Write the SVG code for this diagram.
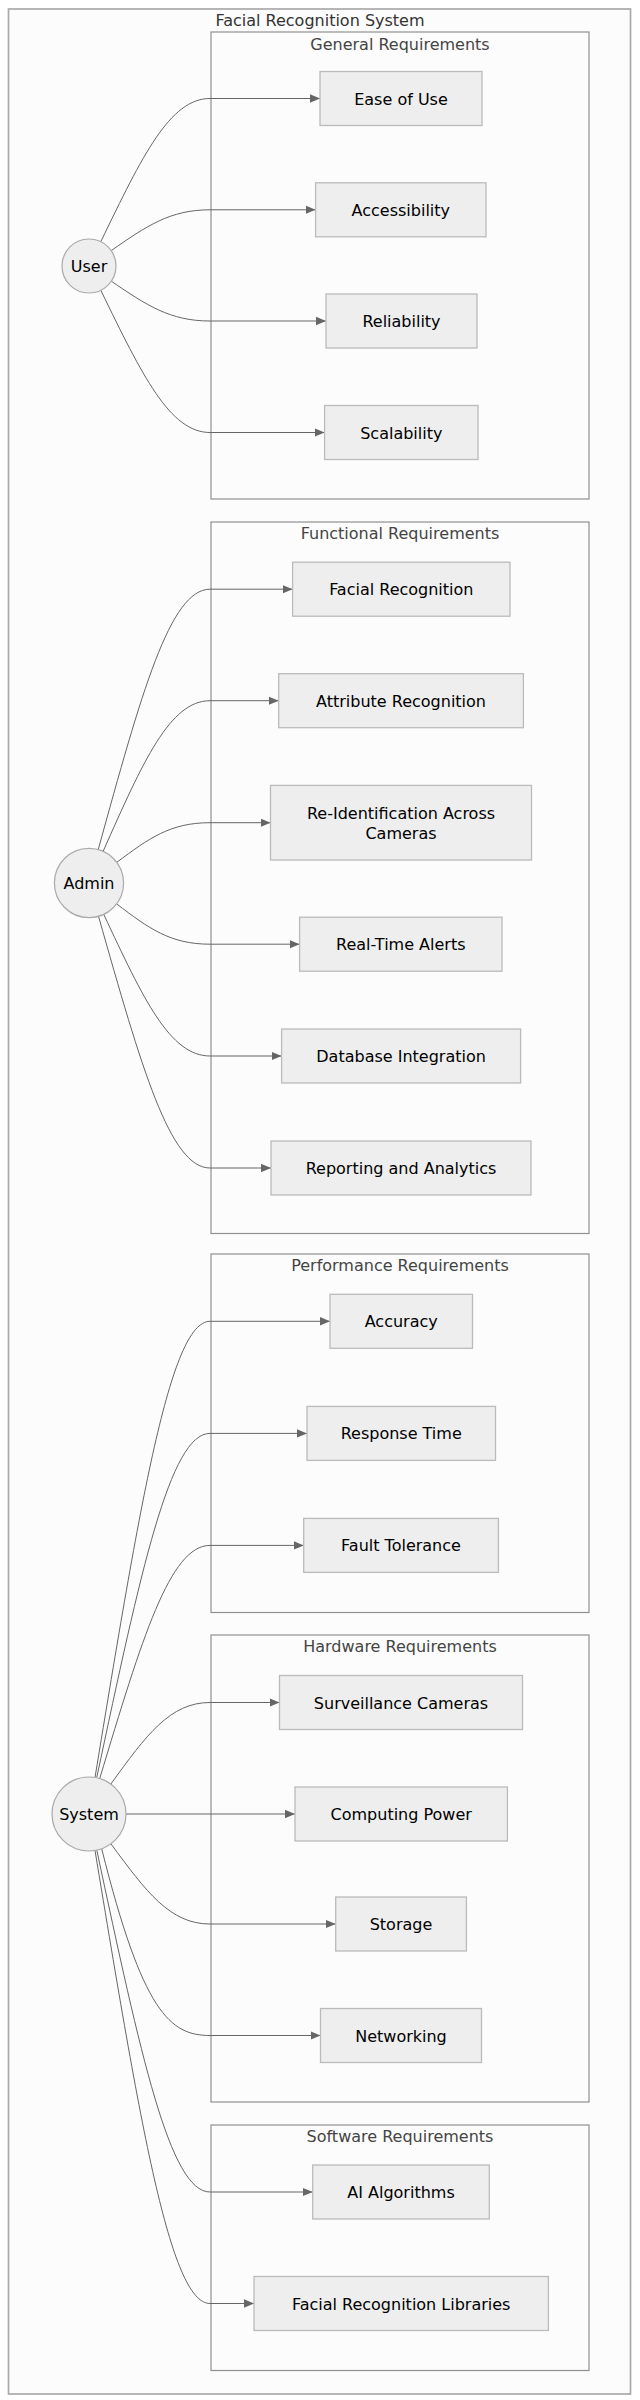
<svg xmlns="http://www.w3.org/2000/svg" width="640" height="2400" viewBox="0 0 640 2400">
<defs>
<style>
text{font-family:"DejaVu Sans","Verdana",sans-serif;font-size:16px;text-anchor:middle}
.node rect{fill:#eeeeee;stroke:#bbbbbb;stroke-width:1.3}
.node circle{fill:#eeeeee;stroke:#aaaaaa;stroke-width:1.2}
.node text{fill:#000000}
.cluster rect{fill:#fcfcfc;stroke:#909090;stroke-width:1.2}
.cluster text{fill:#444444}
.edges path{fill:none;stroke:#666666;stroke-width:1}
</style>
<marker id="arrow" viewBox="0 0 10 10" refX="10" refY="5" markerUnits="userSpaceOnUse" markerWidth="10" markerHeight="10" orient="auto">
<path d="M0,0.8 L10,5 L0,9.2 z" fill="#666666"/>
</marker>
</defs>
<rect x="0" y="0" width="640" height="2400" fill="#ffffff"/>
<g id="frs" class="cluster">
<rect x="8.5" y="9" width="622" height="2385" style="stroke:#aaaaaa;stroke-width:1.7"/>
<text x="320" y="26" style="fill:#333333">Facial Recognition System</text>
</g>
<g id="general" class="cluster">
<rect x="211" y="32" width="378" height="467"/>
<text x="400" y="49.5">General Requirements</text>
</g>
<g id="functional" class="cluster">
<rect x="211" y="522" width="378" height="711.5"/>
<text x="400" y="539">Functional Requirements</text>
</g>
<g id="performance" class="cluster">
<rect x="211" y="1254" width="378" height="358.5"/>
<text x="400" y="1271">Performance Requirements</text>
</g>
<g id="hardware" class="cluster">
<rect x="211" y="1635" width="378" height="467"/>
<text x="400" y="1652">Hardware Requirements</text>
</g>
<g id="software" class="cluster">
<rect x="211" y="2125" width="378" height="245.5"/>
<text x="400" y="2142">Software Requirements</text>
</g>
<g class="edges" id="connectors">
<path d="M100.8,241.7 C142.3,155.8 170,98.5 210,98.5 L320,98.5" marker-end="url(#arrow)"/>
<path d="M111.2,250.6 C146.5,226.1 170,209.8 210,209.8 L315.6,209.8" marker-end="url(#arrow)"/>
<path d="M111.3,281.2 C146.5,305.1 170,321 210,321 L326,321" marker-end="url(#arrow)"/>
<path d="M100.8,290.3 C142.3,375.6 170,432.5 210,432.5 L324.6,432.5" marker-end="url(#arrow)"/>
<path d="M98.2,849.7 C141.3,693.4 170,589.2 210,589.2 L292.6,589.2" marker-end="url(#arrow)"/>
<path d="M103.1,851.4 C143.2,761 170,700.7 210,700.7 L278.7,700.7" marker-end="url(#arrow)"/>
<path d="M116.8,862.3 C148.7,838.6 170,822.7 210,822.7 L270.5,822.7" marker-end="url(#arrow)"/>
<path d="M116.6,903.9 C148.6,928.1 170,944.2 210,944.2 L299.6,944.2" marker-end="url(#arrow)"/>
<path d="M103.7,914.3 C143.5,999.3 170,1056 210,1056 L281.6,1056" marker-end="url(#arrow)"/>
<path d="M98.5,916.3 C141.4,1067.3 170,1168 210,1168 L271,1168" marker-end="url(#arrow)"/>
<path d="M95,1777.5 C140,1503.8 170,1321.3 210,1321.3 L330,1321.3" marker-end="url(#arrow)"/>
<path d="M96.7,1777.8 C140.7,1571.2 170,1433.4 210,1433.4 L307,1433.4" marker-end="url(#arrow)"/>
<path d="M99.7,1778.6 C141.9,1638.7 170,1545.4 210,1545.4 L303.7,1545.4" marker-end="url(#arrow)"/>
<path d="M110.8,1784.1 C146.3,1735.1 170,1702.5 210,1702.5 L279.5,1702.5" marker-end="url(#arrow)"/>
<path d="M126,1814 L295,1814" marker-end="url(#arrow)"/>
<path d="M110.9,1843.8 C146.4,1891.9 170,1924 210,1924 L335.7,1924" marker-end="url(#arrow)"/>
<path d="M101.7,1848.8 C142.7,2012.4 170,2035.5 210,2035.5 L320.5,2035.5" marker-end="url(#arrow)"/>
<path d="M96.8,1850.2 C140.7,2055.3 170,2192 210,2192 L312.7,2192" marker-end="url(#arrow)"/>
<path d="M95,1850.5 C140,2122.3 170,2303.5 210,2303.5 L254,2303.5" marker-end="url(#arrow)"/>
</g>
<g id="User" class="node"><circle cx="89" cy="266" r="27"/><text x="89" y="272">User</text></g>
<g id="Admin" class="node"><circle cx="89" cy="883" r="34.6"/><text x="89" y="889">Admin</text></g>
<g id="System" class="node"><circle cx="89" cy="1814" r="37"/><text x="89" y="1820">System</text></g>
<g id="EaseOfUse" class="node"><rect x="320" y="71.5" width="162" height="54"/><text x="401" y="104.5">Ease of Use</text></g>
<g id="Accessibility" class="node"><rect x="315.6" y="182.8" width="170.4" height="54"/><text x="400.8" y="215.8">Accessibility</text></g>
<g id="Reliability" class="node"><rect x="326" y="294" width="151" height="54"/><text x="401.5" y="327">Reliability</text></g>
<g id="Scalability" class="node"><rect x="324.6" y="405.5" width="153.4" height="54"/><text x="401.3" y="438.5">Scalability</text></g>
<g id="FacialRecognition" class="node"><rect x="292.6" y="562.2" width="217.4" height="54"/><text x="401.3" y="595.2">Facial Recognition</text></g>
<g id="AttributeRecognition" class="node"><rect x="278.7" y="673.7" width="244.7" height="54"/><text x="401" y="706.7">Attribute Recognition</text></g>
<g id="ReIdentification" class="node"><rect x="270.5" y="785.4" width="261" height="74.6"/><text x="401" y="818.5">Re-Identification Across</text><text x="401" y="839">Cameras</text></g>
<g id="RealTimeAlerts" class="node"><rect x="299.6" y="917.2" width="202.4" height="54"/><text x="400.8" y="950.2">Real-Time Alerts</text></g>
<g id="DatabaseIntegration" class="node"><rect x="281.6" y="1029" width="239" height="54"/><text x="401.1" y="1062">Database Integration</text></g>
<g id="ReportingAnalytics" class="node"><rect x="271" y="1141" width="260" height="54"/><text x="401" y="1174">Reporting and Analytics</text></g>
<g id="Accuracy" class="node"><rect x="330" y="1294.3" width="142.5" height="54"/><text x="401.2" y="1327.3">Accuracy</text></g>
<g id="ResponseTime" class="node"><rect x="307" y="1406.4" width="188.5" height="54"/><text x="401.2" y="1439.4">Response Time</text></g>
<g id="FaultTolerance" class="node"><rect x="303.7" y="1518.4" width="194.7" height="54"/><text x="401" y="1551.4">Fault Tolerance</text></g>
<g id="SurveillanceCameras" class="node"><rect x="279.5" y="1675.5" width="243" height="54"/><text x="401" y="1708.5">Surveillance Cameras</text></g>
<g id="ComputingPower" class="node"><rect x="295" y="1787" width="212.4" height="54"/><text x="401.2" y="1820">Computing Power</text></g>
<g id="Storage" class="node"><rect x="335.7" y="1897" width="130.7" height="54"/><text x="401" y="1930">Storage</text></g>
<g id="Networking" class="node"><rect x="320.5" y="2008.5" width="161" height="54"/><text x="401" y="2041.5">Networking</text></g>
<g id="AIAlgorithms" class="node"><rect x="312.7" y="2165" width="176.6" height="54"/><text x="401" y="2198">AI Algorithms</text></g>
<g id="FRLibraries" class="node"><rect x="254" y="2276.5" width="294.4" height="54"/><text x="401.2" y="2309.5">Facial Recognition Libraries</text></g>
</svg>
